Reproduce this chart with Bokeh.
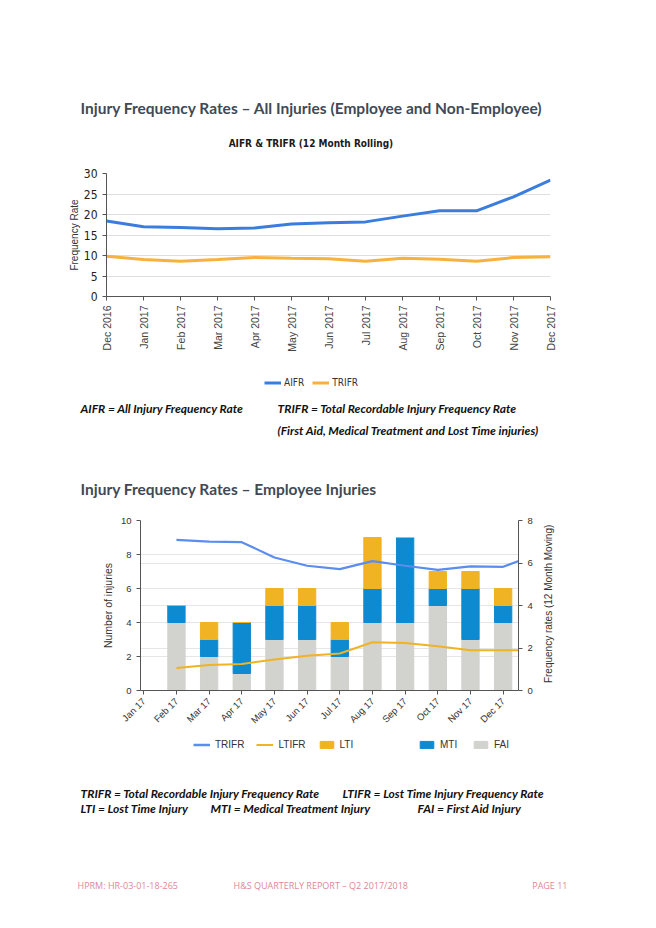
from math import pi
from bokeh.plotting import figure
from bokeh.layouts import column, row
from bokeh.models import (FixedTicker, LinearAxis, Range1d, Legend, Grid,
                          ColumnDataSource)
from bokeh.core.properties import value
from bokeh.embed import file_html
from bokeh.resources import INLINE

NAN = float("nan")

# ---------------- data ----------------
MONTHS_ROLL = ["Dec 2016", "Jan 2017", "Feb 2017", "Mar 2017", "Apr 2017", "May 2017",
               "Jun 2017", "Jul 2017", "Aug 2017", "Sep 2017", "Oct 2017", "Nov 2017", "Dec 2017"]
AIFR = [18.4, 17.0, 16.8, 16.5, 16.7, 17.7, 18.0, 18.2, 19.6, 20.9, 20.9, 24.3, 28.4]
TRIFR_ROLL = [9.8, 9.0, 8.6, 9.0, 9.5, 9.3, 9.2, 8.6, 9.3, 9.1, 8.6, 9.5, 9.7]

MONTHS_EMP = ["Jan 17", "Feb 17", "Mar 17", "Apr 17", "May 17", "Jun 17",
              "Jul 17", "Aug 17", "Sep 17", "Oct 17", "Nov 17", "Dec 17"]
BAR_MONTHS = ["Feb 17", "Mar 17", "Apr 17", "May 17", "Jun 17", "Jul 17",
              "Aug 17", "Sep 17", "Oct 17", "Nov 17", "Dec 17"]
FAI = [4, 2, 1, 3, 3, 2, 4, 4, 5, 3, 4]
MTI = [1, 1, 3, 2, 2, 1, 2, 5, 1, 3, 1]
LTI = [0, 1, 0, 1, 1, 1, 3, 0, 1, 1, 1]
RATE_MONTHS = BAR_MONTHS + ["Jan 18"]
TRIFR_EMP = [7.09, 7.01, 6.98, 6.26, 5.87, 5.71, 6.09, 5.87, 5.68, 5.84, 5.82, 6.40]
LTIFR_EMP = [1.06, 1.20, 1.25, 1.46, 1.64, 1.74, 2.27, 2.24, 2.08, 1.89, 1.89, 1.89]

HEAD1 = "Injury Frequency Rates \u2013 All Injuries (Employee and Non-Employee)"
TITLE1 = "AIFR & TRIFR  (12 Month Rolling)"
DEF1A = "AIFR = All Injury Frequency Rate"
DEF1B = "TRIFR = Total Recordable Injury Frequency Rate"
DEF1C = "(First Aid, Medical Treatment and Lost Time injuries)"
HEAD2 = "Injury Frequency Rates \u2013 Employee Injuries"
RIGHT_LABEL = "Frequency rates  (12 Month Moving)"
DEF2A = "TRIFR = Total Recordable Injury Frequency Rate"
DEF2B = "LTIFR = Lost Time Injury Frequency Rate"
DEF2C = "LTI = Lost Time Injury"
DEF2D = "MTI = Medical Treatment Injury"
DEF2E = "FAI = First Aid Injury"
FOOT1 = "HPRM: HR-03-01-18-265"
FOOT2 = "H&S QUARTERLY REPORT \u2013 Q2 2017/2018"
FOOT3 = "PAGE 11"

NARROW = "DejaVu Sans Condensed"
SANS = "Liberation Sans"
HEAD_FONT = "Lato"
HEAD_COLOR = "#3f4a55"
FOOT_COLOR = "#e38598"

C_AIFR = "#3b7ddd"
C_TRIFR1 = "#f7b13d"
C_TRIFR2 = "#5b8def"
C_LTIFR = "#f0b323"
C_LTI = "#f0b323"
C_MTI = "#0e8ad0"
C_FAI = "#d2d2ce"


def no_align(p):
    if "frame_align" in p.properties():
        p.frame_align = False


def text_fig(h, w=640):
    p = figure(width=w, height=h, frame_width=w, frame_height=h,
               x_range=Range1d(0, w), y_range=Range1d(h, 0),
               toolbar_location=None, output_backend="svg",
               x_axis_location=None, y_axis_location=None, min_border=0)
    p.grid.visible = False
    p.outline_line_color = None
    no_align(p)
    return p


def put(p, x, y, s, size, color="#111111", style="normal", align="left", font=HEAD_FONT,
        angle=0.0):
    p.text(x=[x], y=[y], text=[s], text_font=value(font), text_font_size=size,
           text_font_style=style, text_color=color, text_align=align,
           text_baseline="middle", angle=angle)


def legend_at(p, items, left, center_y, h, font, size, spacing, standoff):
    lg = Legend(items=items, orientation="horizontal", location=(left, h - center_y - 5),
                padding=0, margin=0, border_line_color=None, background_fill_alpha=0,
                glyph_width=17, glyph_height=9, label_height=10,
                label_text_font=font, label_text_font_size=size,
                label_text_color="#333333", spacing=spacing, label_standoff=standoff)
    p.add_layout(lg)


def style_axis(ax, font, size, color="#444444"):
    ax.axis_line_color = "#555555"
    ax.major_tick_line_color = "#555555"
    ax.major_tick_out = 4
    ax.major_tick_in = 0
    ax.minor_tick_line_color = None
    ax.major_label_text_font = font
    ax.major_label_text_font_size = size
    ax.major_label_text_color = color
    ax.axis_label_text_font = SANS
    ax.axis_label_text_font_style = "normal"
    ax.axis_label_text_color = "#333333"


DEF_SIZE = "12px"

# ---------------- top text ----------------
t1 = text_fig(150)
put(t1, 80, 107, HEAD1, "15.5px", HEAD_COLOR, "bold")
put(t1, 312, 143, TITLE1, "10px", "#1a1a1a", "bold", "center", NARROW)

# ---------------- chart 1 ----------------
c1 = figure(width=640, height=218, frame_width=444, frame_height=123,
            x_range=Range1d(0, len(MONTHS_ROLL) - 1),
            y_range=Range1d(0, 30), toolbar_location=None, output_backend="svg",
            min_border_left=106, min_border_right=90, min_border_top=23, min_border_bottom=72)
no_align(c1)
c1.outline_line_color = None
c1.xgrid.visible = False
c1.ygrid.grid_line_color = "#dedede"
x1 = list(range(len(MONTHS_ROLL)))
c1.xaxis.ticker = FixedTicker(ticks=x1)
c1.xaxis.major_label_overrides = {i: m for i, m in enumerate(MONTHS_ROLL)}
c1.xaxis.major_label_orientation = pi / 2
c1.yaxis.ticker = FixedTicker(ticks=[0, 5, 10, 15, 20, 25, 30])
c1.yaxis.axis_label = "Frequency Rate"
style_axis(c1.xaxis[0], SANS, "10.5px")
style_axis(c1.yaxis[0], NARROW, "12px", "#222222")
c1.yaxis.axis_label_text_font_size = "10px"
c1.yaxis.axis_label_standoff = 1
c1.line(x1, AIFR, color=C_AIFR, line_width=3)
c1.line(x1, TRIFR_ROLL, color=C_TRIFR1, line_width=3)

# ---------------- middle text (legend 1, definitions, heading 2) ----------------
t2 = text_fig(137)
k_aifr = t2.line([NAN], [NAN], color=C_AIFR, line_width=3)
k_trifr = t2.line([NAN], [NAN], color=C_TRIFR1, line_width=3)
legend_at(t2, [("AIFR", [k_aifr]), ("TRIFR", [k_trifr])], 264, 15, 137,
          NARROW, "10px", 8, 3)
put(t2, 80, 40, DEF1A, DEF_SIZE, "#111111", "bold italic")
put(t2, 277, 40, DEF1B, DEF_SIZE, "#111111", "bold italic")
put(t2, 277, 62, DEF1C, DEF_SIZE, "#111111", "bold italic")
put(t2, 80, 120, HEAD2, "15.5px", HEAD_COLOR, "bold")

# ---------------- chart 2 ----------------
c2 = figure(width=538, height=230, frame_width=378, frame_height=170,
            x_range=Range1d(-0.1, 11.47), y_range=Range1d(0, 10),
            toolbar_location=None, output_backend="svg",
            min_border_left=140, min_border_right=20, min_border_top=15, min_border_bottom=45)
no_align(c2)
c2.outline_line_color = None
c2.extra_y_ranges = {"rate": Range1d(0, 8)}
x2 = list(range(len(MONTHS_EMP)))
c2.xaxis.ticker = FixedTicker(ticks=x2)
c2.xaxis.major_label_overrides = {i: m for i, m in enumerate(MONTHS_EMP)}
c2.xaxis.major_label_orientation = pi / 4
c2.xgrid.visible = False
c2.ygrid.grid_line_color = "#e6e6e6"
c2.yaxis.ticker = FixedTicker(ticks=[0, 2, 4, 6, 8, 10])
c2.yaxis.axis_label = "Number of injuries"
right = LinearAxis(y_range_name="rate", ticker=FixedTicker(ticks=[0, 2, 4, 6, 8]))
c2.add_layout(right, "right")
c2.add_layout(Grid(dimension=1, ticker=right.ticker, y_range_name="rate",
                   grid_line_color="#e6e6e6"))
for ax in [c2.xaxis[0], c2.yaxis[0], right]:
    style_axis(ax, SANS, "9.5px", "#333333")
    ax.axis_label_text_font_size = "10.5px"
c2.yaxis[0].axis_label_standoff = 4

bar_x = [MONTHS_EMP.index(m) for m in BAR_MONTHS]
src = ColumnDataSource(dict(x=bar_x, FAI=FAI, MTI=MTI, LTI=LTI))
c2.vbar_stack(["FAI", "MTI", "LTI"], x="x", width=0.53, source=src,
              color=[C_FAI, C_MTI, C_LTI])
rate_x = [bar_x[0] + i for i in range(len(RATE_MONTHS))]
c2.line(rate_x, TRIFR_EMP, y_range_name="rate", color=C_TRIFR2, line_width=2.2)
c2.line(rate_x, LTIFR_EMP, y_range_name="rate", color=C_LTIFR, line_width=2)

# right-hand axis title (reads bottom to top)
side = text_fig(230, 102)
put(side, 10, 97, RIGHT_LABEL, "10px", "#333333", "normal", "center", SANS, pi / 2)

# ---------------- bottom text (legend 2, definitions, footer) ----------------
t3 = text_fig(177)
k_tr = t3.line([NAN], [NAN], color=C_TRIFR2, line_width=2.5)
k_lt = t3.line([NAN], [NAN], color=C_LTIFR, line_width=2)
k_lti = t3.vbar(x=[NAN], top=[NAN], width=1, color=C_LTI)
k_mti = t3.vbar(x=[NAN], top=[NAN], width=1, color=C_MTI)
k_fai = t3.vbar(x=[NAN], top=[NAN], width=1, color=C_FAI)
legend_at(t3, [("TRIFR", [k_tr]), ("LTIFR", [k_lt]), ("LTI", [k_lti])], 193, 10, 177,
          SANS, "10px", 12, 5)
legend_at(t3, [("MTI", [k_mti]), ("FAI", [k_fai])], 418, 10, 177,
          SANS, "10px", 12, 5)
put(t3, 80, 58, DEF2A, DEF_SIZE, "#111111", "bold italic")
put(t3, 342, 58, DEF2B, DEF_SIZE, "#111111", "bold italic")
put(t3, 80, 73, DEF2C, DEF_SIZE, "#111111", "bold italic")
put(t3, 210, 73, DEF2D, DEF_SIZE, "#111111", "bold italic")
put(t3, 417, 73, DEF2E, DEF_SIZE, "#111111", "bold italic")
put(t3, 77, 150, FOOT1, "9px", FOOT_COLOR, "normal", "left", "Open Sans")
put(t3, 233, 150, FOOT2, "9px", FOOT_COLOR, "normal", "left", "Open Sans")
put(t3, 567, 150, FOOT3, "9px", FOOT_COLOR, "normal", "right", "Open Sans")

layout = column(t1, c1, t2, row(c2, side, spacing=0), t3, spacing=0)
open("out.html", "w").write(file_html(layout, INLINE))
